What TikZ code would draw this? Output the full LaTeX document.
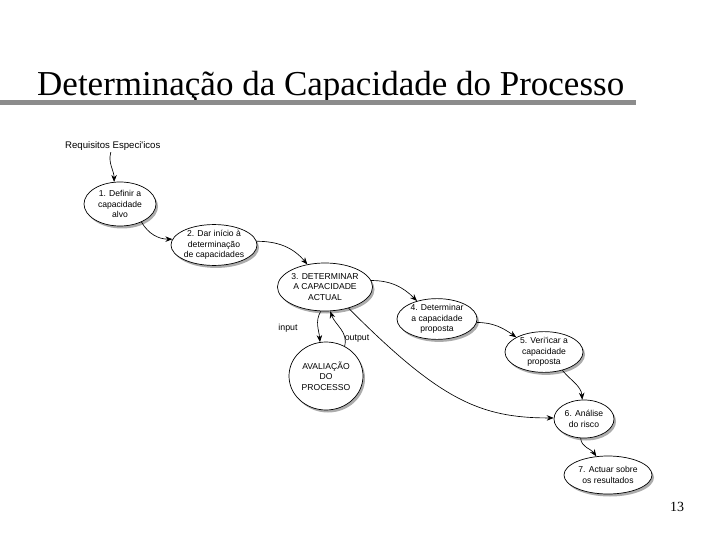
\documentclass[tikz,border=0pt]{standalone}
\usepackage{fontspec}
\setmainfont{Liberation Serif}
\newfontfamily\nodefont{Liberation Sans}
\usetikzlibrary{shapes.geometric,shadows,arrows.meta}
\definecolor{bargray}{HTML}{8C8C8C}
\tikzset{
  proc/.style={ellipse, draw=black, line width=0.7pt, fill=white, inner sep=0pt,
    align=center, font=\nodefont\fontsize{8.6}{10.4}\selectfont,
    drop shadow={opacity=0.65, shadow xshift=2pt, shadow yshift=-2.5pt}},
  conn/.style={line width=0.65pt, -{Stealth[length=7pt,width=5.5pt]}},
  lbl/.style={font=\nodefont\fontsize{8.8}{10}\selectfont, inner sep=0pt}
}
\begin{document}
\begin{tikzpicture}[x=1pt,y=-1pt]
\useasboundingbox (0,0) rectangle (720,540);
% title
\node[anchor=base west, inner sep=0pt, font=\fontsize{35}{40}\selectfont] (title) at (37,96) {Determinação da Capacidade do Processo};
\fill[bargray] (0,100.5) rectangle (636,105);
\node[anchor=base, inner sep=0pt, font=\fontsize{14}{16}\selectfont] (pg) at (677,511) {13};
% nodes
\node[anchor=base west, inner sep=0pt, font=\nodefont\fontsize{9.6}{11}\selectfont] (req) at (65,149) {Requisitos Especi'icos};
\node[proc, minimum width=72pt, minimum height=44pt] (n1) at (120,204) {1. Definir a\\capacidade\\alvo};
\node[proc, minimum width=86pt, minimum height=38pt] (n2) at (214,245) {2. Dar início à\\determinação\\de capacidades};
\node[proc, minimum width=94pt, minimum height=48pt] (n3) at (325,287) {3. DETERMINAR\\A CAPACIDADE\\ACTUAL};
\node[proc, minimum width=74pt, minimum height=68pt] (av) at (326,376) {AVALIAÇÃO\\DO\\PROCESSO};
\node[proc, minimum width=80pt, minimum height=40pt] (n4) at (437,319) {4. Determinar\\a capacidade\\proposta};
\node[proc, minimum width=78pt, minimum height=38pt] (n5) at (544,352) {5. Veri'icar a\\capacidade\\proposta};
\node[proc, minimum width=60pt, minimum height=38pt] (n6) at (584,419) {6. Análise\\do risco};
\node[proc, minimum width=88pt, minimum height=38pt] (n7) at (608,475) {7. Actuar sobre\\os resultados};
% connectors
\draw[conn] (req.south) ++(-2,1) coordinate (rs) (rs) to[out=-105,in=90] (n1.105);
\draw[conn] (n1.-40) to[out=-60,in=180] (n2.172);
\draw[conn] (n2.5) to[out=0,in=130] (n3.128);
\draw[conn] (n3.8) to[out=0,in=135] (n4.138);
\draw[conn] (n4.-5) to[out=0,in=145] (n5.152);
\draw[conn] (n5.-45) to[out=-50,in=95] (n6.95);
\draw[conn] (n6.-100) to[out=-85,in=125] (n7.122);
\draw[conn] (n3.-42) .. controls (440,400) and (480,418) .. (n6.178);
\draw[conn] (n3.-100) to[out=-120,in=95] (av.100);
\draw[conn] (av.58) to[out=75,in=-70] (n3.-78);
\node[lbl] (inp) at (288,328) {input};
\node[lbl] (outp) at (357,339) {output};
\end{tikzpicture}
\end{document}
